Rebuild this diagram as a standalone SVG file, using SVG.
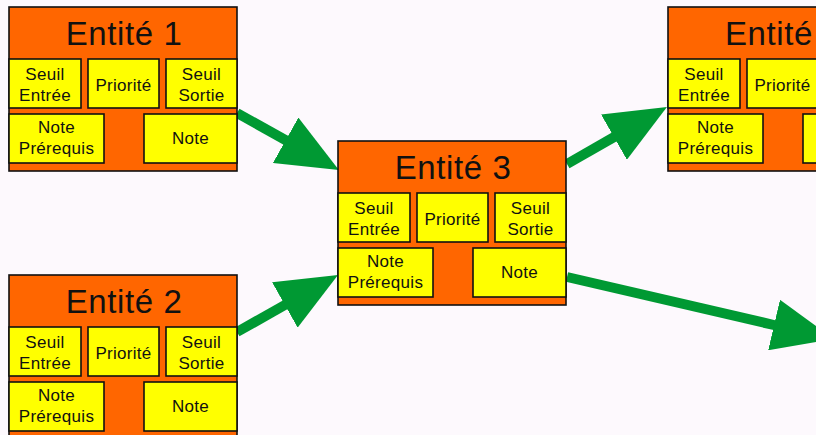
<svg xmlns="http://www.w3.org/2000/svg" width="816" height="435" viewBox="0 0 816 435">
  <style>
    .outer { fill: #FF6600; stroke: #111; stroke-width: 1.6; }
    .cell { fill: #FFFF00; stroke: #111; stroke-width: 1.6; }
    .title { font-family: "Liberation Sans", Arial, sans-serif; font-size: 33px; letter-spacing: 0.6px; fill: #111; text-anchor: middle; }
    .lbl { font-family: "Liberation Sans", Arial, sans-serif; font-size: 17px; letter-spacing: 0.3px; fill: #111; text-anchor: middle; }
    .conn { stroke: #009933; stroke-width: 10; fill: none; marker-end: url(#head); }
  </style>
  <defs>
    <marker id="head" markerUnits="userSpaceOnUse" viewBox="0 0 61 52" refX="2" refY="26" markerWidth="61" markerHeight="52" orient="auto">
      <path d="M0,0 L61,26 L0,52 Z" fill="#009933"/>
    </marker>
  </defs>
  <rect width="816" height="435" fill="#FDF9FD"/>

  <g id="connectors">
    <line class="conn" x1="237" y1="113" x2="287.4" y2="141.2"/>
    <line class="conn" x1="237" y1="332" x2="286.6" y2="304"/>
    <line class="conn" x1="567" y1="164" x2="615.7" y2="136.2"/>
    <line class="conn" x1="567" y1="277" x2="776" y2="325.5"/>
  </g>

  <g id="entite1" transform="translate(9,7)">
    <rect class="outer" x="0" y="0" width="228" height="164"/>
    <text class="title" x="115" y="38">Entité 1</text>
    <rect class="cell" x="0" y="52" width="72" height="49"/>
    <text class="lbl" x="36" y="73">Seuil</text>
    <text class="lbl" x="36" y="93.5">Entrée</text>
    <rect class="cell" x="79" y="52" width="71" height="49"/>
    <text class="lbl" x="114.5" y="83.5">Priorité</text>
    <rect class="cell" x="157" y="52" width="71" height="49"/>
    <text class="lbl" x="192.5" y="73">Seuil</text>
    <text class="lbl" x="192.5" y="93.5">Sortie</text>
    <rect class="cell" x="0" y="107" width="95" height="49"/>
    <text class="lbl" x="47.5" y="126">Note</text>
    <text class="lbl" x="47.5" y="147">Prérequis</text>
    <rect class="cell" x="135" y="107" width="93" height="49"/>
    <text class="lbl" x="181.5" y="137">Note</text>
  </g>

  <g id="entite2" transform="translate(9,275)">
    <rect class="outer" x="0" y="0" width="228" height="164"/>
    <text class="title" x="115" y="38">Entité 2</text>
    <rect class="cell" x="0" y="52" width="72" height="49"/>
    <text class="lbl" x="36" y="73">Seuil</text>
    <text class="lbl" x="36" y="93.5">Entrée</text>
    <rect class="cell" x="79" y="52" width="71" height="49"/>
    <text class="lbl" x="114.5" y="83.5">Priorité</text>
    <rect class="cell" x="157" y="52" width="71" height="49"/>
    <text class="lbl" x="192.5" y="73">Seuil</text>
    <text class="lbl" x="192.5" y="93.5">Sortie</text>
    <rect class="cell" x="0" y="107" width="95" height="49"/>
    <text class="lbl" x="47.5" y="126">Note</text>
    <text class="lbl" x="47.5" y="147">Prérequis</text>
    <rect class="cell" x="135" y="107" width="93" height="49"/>
    <text class="lbl" x="181.5" y="137">Note</text>
  </g>

  <g id="entite3" transform="translate(338,141)">
    <rect class="outer" x="0" y="0" width="228" height="164"/>
    <text class="title" x="115" y="38">Entité 3</text>
    <rect class="cell" x="0" y="52" width="72" height="49"/>
    <text class="lbl" x="36" y="73">Seuil</text>
    <text class="lbl" x="36" y="93.5">Entrée</text>
    <rect class="cell" x="79" y="52" width="71" height="49"/>
    <text class="lbl" x="114.5" y="83.5">Priorité</text>
    <rect class="cell" x="157" y="52" width="71" height="49"/>
    <text class="lbl" x="192.5" y="73">Seuil</text>
    <text class="lbl" x="192.5" y="93.5">Sortie</text>
    <rect class="cell" x="0" y="107" width="95" height="49"/>
    <text class="lbl" x="47.5" y="126">Note</text>
    <text class="lbl" x="47.5" y="147">Prérequis</text>
    <rect class="cell" x="135" y="107" width="93" height="49"/>
    <text class="lbl" x="181.5" y="137">Note</text>
  </g>

  <g id="entite4" transform="translate(668,7)">
    <rect class="outer" x="0" y="0" width="228" height="164"/>
    <text class="title" x="57" y="38" style="text-anchor:start">Entité</text>
    <rect class="cell" x="0" y="52" width="72" height="49"/>
    <text class="lbl" x="36" y="73">Seuil</text>
    <text class="lbl" x="36" y="93.5">Entrée</text>
    <rect class="cell" x="79" y="52" width="71" height="49"/>
    <text class="lbl" x="114.5" y="83.5">Priorité</text>
    <rect class="cell" x="0" y="107" width="95" height="49"/>
    <text class="lbl" x="47.5" y="126">Note</text>
    <text class="lbl" x="47.5" y="147">Prérequis</text>
    <rect class="cell" x="135" y="107" width="93" height="49"/>
  </g>
</svg>
